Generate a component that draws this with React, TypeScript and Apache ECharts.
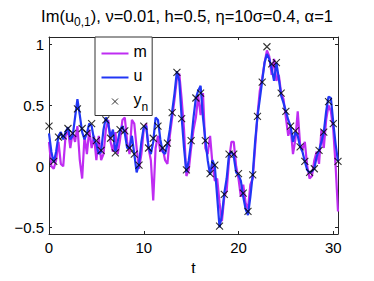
import React, { useEffect, useRef } from "react";
import * as echarts from "echarts";

const FONT = "'Liberation Sans', Arial, Helvetica, sans-serif";

const lineStep = 0.25;
const obsStep = 0.5;

const mValues = [
  0.20, 0.00, -0.02, 0.05, 0.20, 0.02, 0.00, 0.25, 0.30, 0.15, 0.28, 0.20,
  0.33, 0.05, -0.10, 0.25, 0.10, 0.30, 0.15, 0.25, 0.05, 0.25, 0.05, 0.10,
  0.30, 0.38, 0.20, 0.12, 0.28, 0.10, 0.22, 0.38, 0.40, 0.20, 0.10, 0.38,
  0.35, 0.15, -0.02, 0.10, 0.30, 0.35, 0.15, 0.05, -0.28, 0.15, 0.25, 0.12,
  0.15, 0.05, 0.02, 0.25, 0.40, 0.55, 0.72, 0.76, 0.55, 0.30, -0.08, -0.03,
  0.15, 0.30, 0.40, 0.58, 0.42, 0.60, 0.15, 0.10, 0.25, 0.02, -0.12, -0.10,
  -0.30, -0.45, -0.25, -0.20, 0.05, 0.20, 0.20, 0.00, -0.10, -0.25, -0.15, -0.30,
  -0.35, -0.15, -0.10, 0.15, 0.42, 0.62, 0.72, 0.85, 0.95, 0.90, 0.75, 0.88,
  0.70, 0.75, 0.60, 0.55, 0.40, 0.25, 0.32, 0.10, 0.22, 0.45, 0.18, 0.14,
  0.20, 0.00, -0.10, -0.08, 0.05, 0.12, 0.02, 0.30, 0.15, 0.38, 0.50, 0.45,
  0.30, 0.00, -0.37,
];

const uValues = [
  0.27, 0.12, 0.03, 0.12, 0.25, 0.28, 0.22, 0.28, 0.32, 0.22, 0.25, 0.40,
  0.55, 0.42, 0.28, 0.22, 0.27, 0.35, 0.33, 0.22, 0.18, 0.10, 0.12, 0.30,
  0.40, 0.35, 0.24, 0.30, 0.12, 0.20, 0.30, 0.33, 0.27, 0.15, 0.15, 0.25,
  0.10, -0.05, 0.02, 0.20, 0.32, 0.33, 0.16, 0.10, 0.20, 0.40, 0.38, 0.22,
  0.12, 0.10, 0.18, 0.30, 0.45, 0.60, 0.78, 0.70, 0.40, 0.15, -0.05, 0.05,
  0.20, 0.40, 0.56, 0.62, 0.66, 0.40, 0.22, 0.05, -0.07, 0.05, 0.00, -0.25,
  -0.50, -0.40, -0.22, -0.10, 0.10, 0.12, 0.08, -0.05, -0.07, -0.12, -0.25, -0.35,
  -0.40, -0.25, -0.07, 0.20, 0.41, 0.55, 0.70, 0.85, 0.92, 0.88, 0.80, 0.70,
  0.85, 0.72, 0.58, 0.52, 0.45, 0.38, 0.33, 0.20, 0.28, 0.25, 0.16, 0.12,
  0.04, -0.03, -0.05, -0.04, -0.02, 0.08, 0.13, 0.20, 0.28, 0.45, 0.57, 0.56,
  0.36, 0.18, 0.04,
];

const yObs = [
  0.33, 0.04, 0.24, 0.25, 0.31, 0.27, 0.47, 0.31, 0.27, 0.35, 0.21, 0.13,
  0.38, 0.23, 0.11, 0.30, 0.29, 0.15, 0.10, 0.01, 0.33, 0.15, 0.23, 0.33,
  0.15, 0.19, 0.44, 0.77, 0.39, -0.03, 0.21, 0.56, 0.60, 0.21, -0.06, 0.01,
  -0.49, -0.23, 0.10, 0.10, -0.06, -0.22, -0.37, -0.07, 0.41, 0.69, 0.98, 0.84,
  0.85, 0.60, 0.45, 0.33, 0.29, 0.16, 0.04, -0.05, -0.02, 0.13, 0.28, 0.53,
  0.35, 0.04,
];

const xTicks = [0, 10, 20, 30];
const yTicks = [-0.5, 0, 0.5, 1];
const xRange = [0, 30.5];
const yRange = [-0.555, 1.06];

const seriesNames = ["m", "u", "y_n"];
const colors = ["#bf2cf2", "#2136f5", "#000000"];

const LINE_ICON = "path://M0,0M27,16M0,8L27,8";
const X_ICON = "path://M0,0M27,16M10.5,5L16.5,11M16.5,5L10.5,11";

export default function App() {
  const ref = useRef<HTMLDivElement>(null);
  useEffect(() => {
    if (!ref.current) return;
    const chart = echarts.init(ref.current, null, { renderer: "svg" });
    const mData = mValues.map((v, i) => [i * lineStep, v]);
    const uData = uValues.map((v, i) => [i * lineStep, v]);
    const oData = yObs.map((v, i) => [i * obsStep, v]);
    const fmtY = (v: number) => (v < 0 ? "\u2212" + String(-v) : String(v));
    const axisLineStyle = { color: "#262626", width: 1 };
    const tickStyle = { color: "#262626", width: 1 };
    chart.setOption({
      animation: false,
      backgroundColor: "#ffffff",
      title: {
        text: "{a|Im(u}{s|0,1}{a|), \u03bd=0.01, h=0.5, \u03b7=10\u03c3=0.4, \u03b1=1}",
        left: "center",
        top: 2,
        textStyle: {
          fontWeight: "normal",
          rich: {
            a: { fontFamily: FONT, fontSize: 16.5, fontWeight: "normal", color: "#000", lineHeight: 22, verticalAlign: "top" },
            s: { fontFamily: FONT, fontSize: 12, fontWeight: "normal", color: "#000", lineHeight: 22, verticalAlign: "top", padding: [9, 0, 0, 0] },
          },
        },
      },
      legend: {
        orient: "vertical",
        left: 95,
        top: 37,
        padding: [6, 4, 3, 4],
        itemGap: 3,
        itemWidth: 27,
        itemHeight: 16,
        borderColor: "#333",
        borderWidth: 1,
        backgroundColor: "#fff",
        data: [
          { name: seriesNames[0], icon: LINE_ICON, itemStyle: { color: "none", borderColor: colors[0], borderWidth: 2 } },
          { name: seriesNames[1], icon: LINE_ICON, itemStyle: { color: "none", borderColor: colors[1], borderWidth: 2 } },
          { name: seriesNames[2], icon: X_ICON, itemStyle: { color: "none", borderColor: colors[2], borderWidth: 1 } },
        ],
        formatter: (name: string) => (name === "y_n" ? "{b|y}{c|n}" : "{b|" + name + "}"),
        textStyle: {
          rich: {
            b: { fontFamily: FONT, fontSize: 16, color: "#000", lineHeight: 20, verticalAlign: "top" },
            c: { fontFamily: FONT, fontSize: 12, color: "#000", lineHeight: 20, verticalAlign: "top", padding: [9, 0, 0, 0] },
          },
        },
      },
      grid: { left: 49, right: 36, top: 37, bottom: 39, containLabel: false },
      xAxis: [
        {
          type: "value",
          min: xRange[0],
          max: xRange[1],
          position: "bottom",
          name: "t",
          nameLocation: "middle",
          nameGap: 26,
          nameTextStyle: { fontFamily: FONT, fontSize: 16, color: "#000" },
          axisLine: { show: true, onZero: false, lineStyle: axisLineStyle },
          axisTick: { show: true, inside: true, length: 3, customValues: xTicks, lineStyle: tickStyle },
          axisLabel: { customValues: xTicks, fontFamily: FONT, fontSize: 15, color: "#000", margin: 6 },
          splitLine: { show: false },
        },
        {
          type: "value",
          min: xRange[0],
          max: xRange[1],
          position: "top",
          axisLine: { show: true, onZero: false, lineStyle: axisLineStyle },
          axisTick: { show: true, inside: true, length: 3, customValues: xTicks, lineStyle: tickStyle },
          axisLabel: { show: false },
          splitLine: { show: false },
        },
      ],
      yAxis: [
        {
          type: "value",
          min: yRange[0],
          max: yRange[1],
          position: "left",
          axisLine: { show: true, onZero: false, lineStyle: axisLineStyle },
          axisTick: { show: true, inside: true, length: 3, customValues: yTicks, lineStyle: tickStyle },
          axisLabel: { customValues: yTicks, formatter: fmtY, fontFamily: FONT, fontSize: 15, color: "#000", margin: 5 },
          splitLine: { show: false },
        },
        {
          type: "value",
          min: yRange[0],
          max: yRange[1],
          position: "right",
          axisLine: { show: true, onZero: false, lineStyle: axisLineStyle },
          axisTick: { show: true, inside: true, length: 3, customValues: yTicks, lineStyle: tickStyle },
          axisLabel: { show: false },
          splitLine: { show: false },
        },
      ],
      series: [
        {
          name: "m",
          type: "line",
          data: mData,
          showSymbol: false,
          symbol: "none",
          lineStyle: { color: colors[0], width: 2.2 },
          itemStyle: { color: colors[0] },
          z: 2,
        },
        {
          name: "u",
          type: "line",
          data: uData,
          showSymbol: false,
          symbol: "none",
          lineStyle: { color: colors[1], width: 2.2 },
          itemStyle: { color: colors[1] },
          z: 3,
        },
        {
          name: "y_n",
          type: "scatter",
          data: oData,
          symbol: "path://M0,0L10,10M10,0L0,10",
          symbolSize: 7,
          itemStyle: { color: "none", borderColor: colors[2], borderWidth: 1.1 },
          z: 4,
        },
      ],
    });
    return () => chart.dispose();
  }, []);
  return <div ref={ref} style={{ width: 374, height: 281, margin: -8 }} />;
}
